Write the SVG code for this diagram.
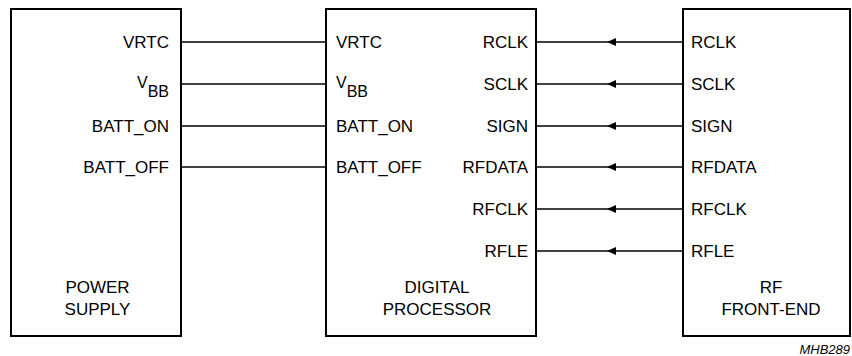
<svg xmlns="http://www.w3.org/2000/svg" width="852" height="356" viewBox="0 0 852 356">
<defs>
<style>
.box{fill:#fff;stroke:#000;stroke-width:2}
.ln{stroke:#000;stroke-width:1.4;fill:none}
text{font-family:"Liberation Sans",Arial,sans-serif;font-size:17px;fill:#000}
.r{text-anchor:end}
.m{text-anchor:middle}
.sub{font-size:16px}
.note{font-size:13px;font-style:italic;text-anchor:end}
</style>
</defs>
<rect width="852" height="356" fill="#fff"/>
<g id="connectors">
<line class="ln" x1="181" y1="42" x2="326" y2="42"/>
<line class="ln" x1="181" y1="84" x2="326" y2="84"/>
<line class="ln" x1="181" y1="126" x2="326" y2="126"/>
<line class="ln" x1="181" y1="167" x2="326" y2="167"/>
<line class="ln" x1="536" y1="42" x2="683" y2="42"/>
<line class="ln" x1="536" y1="84" x2="683" y2="84"/>
<line class="ln" x1="536" y1="126" x2="683" y2="126"/>
<line class="ln" x1="536" y1="167" x2="683" y2="167"/>
<line class="ln" x1="536" y1="209" x2="683" y2="209"/>
<line class="ln" x1="536" y1="251" x2="683" y2="251"/>
<polygon points="607,42 616,38 616,46"/>
<polygon points="607,84 616,80 616,88"/>
<polygon points="607,126 616,122 616,130"/>
<polygon points="607,167 616,163 616,171"/>
<polygon points="607,209 616,205 616,213"/>
<polygon points="607,251 616,247 616,255"/>
</g>
<g id="power-supply">
<rect class="box" x="11" y="9" width="170" height="327"/>
<text class="r" x="169" y="48">VRTC</text>
<text class="r" x="169" y="88"><tspan class="sub">V</tspan><tspan class="sub" dy="9">BB</tspan></text>
<text class="r" x="169" y="132">BATT_ON</text>
<text class="r" x="169" y="173">BATT_OFF</text>
<text class="m" x="97.5" y="293">POWER</text>
<text class="m" x="97.5" y="314.5">SUPPLY</text>
</g>
<g id="digital-processor">
<rect class="box" x="326" y="9" width="210" height="327"/>
<text x="336" y="48">VRTC</text>
<text x="336" y="88"><tspan class="sub">V</tspan><tspan class="sub" dy="9">BB</tspan></text>
<text x="336" y="132">BATT_ON</text>
<text x="336" y="173">BATT_OFF</text>
<text class="r" x="528" y="48">RCLK</text>
<text class="r" x="528" y="90">SCLK</text>
<text class="r" x="528" y="132">SIGN</text>
<text class="r" x="528" y="173">RFDATA</text>
<text class="r" x="528" y="215">RFCLK</text>
<text class="r" x="528" y="257">RFLE</text>
<text class="m" x="437" y="293">DIGITAL</text>
<text class="m" x="437" y="314.5">PROCESSOR</text>
</g>
<g id="rf-front-end">
<rect class="box" x="683" y="9" width="167" height="327"/>
<text x="691" y="48">RCLK</text>
<text x="691" y="90">SCLK</text>
<text x="691" y="132">SIGN</text>
<text x="691" y="173">RFDATA</text>
<text x="691" y="215">RFCLK</text>
<text x="691" y="257">RFLE</text>
<text class="m" x="771" y="293">RF</text>
<text class="m" x="771" y="314.5">FRONT-END</text>
</g>
<text class="note" x="850" y="354">MHB289</text>
</svg>
